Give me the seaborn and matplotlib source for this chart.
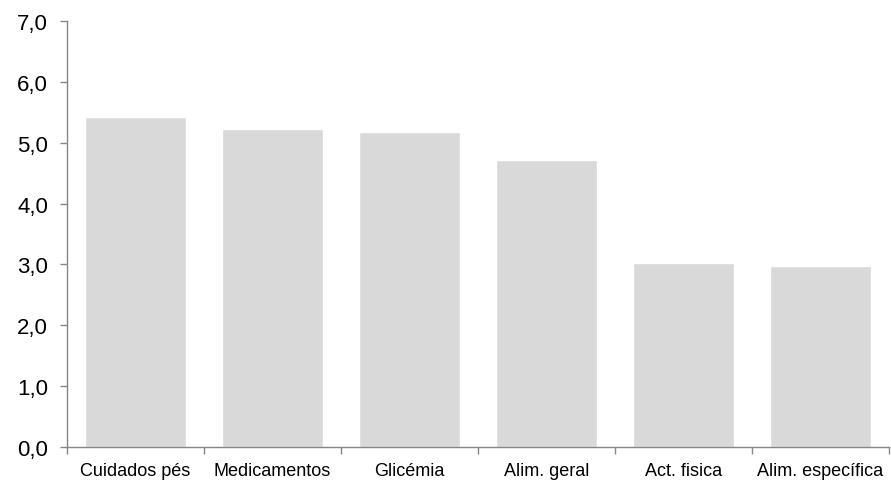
import matplotlib
matplotlib.use("Agg")
import matplotlib.pyplot as plt
import matplotlib.ticker as mticker
import seaborn as sns
import pandas as pd
import numpy as np

categories = ["Cuidados pés", "Medicamentos", "Glicémia", "Alim. geral",
              "Act. fisica", "Alim. específica"]
values = [5.43, 5.22, 5.18, 4.72, 3.02, 2.97]

sns.set_theme(style="white")
plt.rcParams["font.family"] = ["Liberation Sans", "DejaVu Sans"]

df = pd.DataFrame({"cat": categories, "val": values})

fig = plt.figure(figsize=(8.91, 4.81), dpi=100)
ax = fig.add_axes([67 / 891, 1 - 448 / 481, (889 - 67) / 891, (448 - 22) / 481])

sns.barplot(data=df, x="cat", y="val", color="#d9d9d9", saturation=1,
            width=0.73, ax=ax)

ax.set_xlim(-0.5, len(categories) - 0.5)
ax.set_ylim(0, 7)
ax.set_xlabel("")
ax.set_ylabel("")

ax.yaxis.set_major_locator(mticker.MultipleLocator(1))
ax.yaxis.set_major_formatter(mticker.FuncFormatter(lambda v, p: f"{v:.1f}".replace(".", ",")))
ax.tick_params(axis="y", labelsize=16, length=5, width=1, color="#868686",
               direction="out", pad=8.5, left=True, labelcolor="black")

# category labels centred, tick marks between categories
ax.set_xticks(np.arange(len(categories)))
ax.set_xticklabels(categories)
ax.set_xticks(np.arange(-0.5, len(categories)), minor=True)
ax.tick_params(axis="x", which="major", length=0, labelsize=13, pad=10.5,
               labelcolor="black")
ax.tick_params(axis="x", which="minor", length=5, width=1, color="#868686",
               direction="out", bottom=True)

for side in ["top", "right"]:
    ax.spines[side].set_visible(False)
for side in ["left", "bottom"]:
    ax.spines[side].set_color("#868686")
    ax.spines[side].set_linewidth(1)

fig.savefig("out.png", dpi=100)
